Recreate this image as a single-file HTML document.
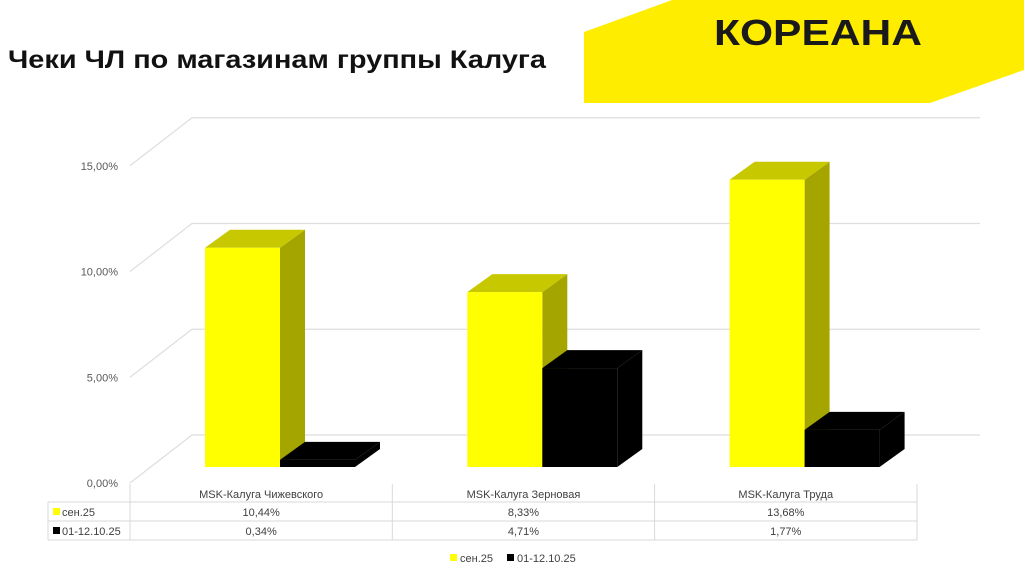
<!DOCTYPE html>
<html><head><meta charset="utf-8"><style>
body{margin:0;width:1024px;height:574px;background:#fff;overflow:hidden;font-family:"Liberation Sans",sans-serif}
</style></head><body>
<svg width="1024" height="574" viewBox="0 0 1024 574">
<polygon points="584,32 672,0 1024,0 1024,70 930,103 584,103" fill="#ffed00"/>
<text x="818" y="45" text-anchor="middle" font-family="Liberation Sans, DejaVu Sans, sans-serif" font-weight="bold" font-size="36" fill="#1a1a1a" textLength="208" lengthAdjust="spacingAndGlyphs">КОРЕАНА</text>
<text x="8" y="68" font-weight="bold" font-size="25" fill="#111" textLength="538" lengthAdjust="spacingAndGlyphs">Чеки ЧЛ по магазинам группы Калуга</text>
<g id="chart"></g>
</svg>
<script>
const categories=["MSK-Калуга Чижевского","MSK-Калуга Зерновая","MSK-Калуга Труда"];
const seriesNames=["сен.25","01-12.10.25"];
const sep25=[10.44,8.33,13.68];
const oct25=[0.34,4.71,1.77];
const sepLabels=["10,44%","8,33%","13,68%"];
const octLabels=["0,34%","4,71%","1,77%"];
const ticks=[0,5,10,15];
const tickLabels=["0,00%","5,00%","10,00%","15,00%"];
const NS="http://www.w3.org/2000/svg";
const g=document.getElementById('chart');
function el(t,a,p){const e=document.createElementNS(NS,t);for(const k in a)e.setAttribute(k,a[k]);(p||g).appendChild(e);return e;}
const y0=483,pxPer=21.15,DX=62,DY=-48;
const yF=v=>y0-v*pxPer;
const barBase=467,barPx=21.0;
const yB=v=>barBase-v*barPx;
const catX0=130,catW=262.3;
ticks.forEach((t,i)=>{
 const y=yF(t);
 const l=el('polyline',{points:`130,${y} ${130+DX},${y+DY} 980,${y+DY}`,fill:'none',stroke:'#dedede','stroke-width':1.2});
 
 
 const tx=el('text',{x:118,y:y+4,'text-anchor':'end','font-size':11,fill:'#595959'});
 tx.textContent=tickLabels[i];
 
 
});
function bar(x,v,front,top,side,name){
 const w=75,dx=25,dy=-18,yt=yB(v);
 const gg=el('g',{});
 
 
 el('polygon',{points:`${x+w},${barBase} ${x+w+dx},${barBase+dy} ${x+w+dx},${yt+dy} ${x+w},${yt}`,fill:side},gg);
 el('polygon',{points:`${x},${yt} ${x+dx},${yt+dy} ${x+w+dx},${yt+dy} ${x+w},${yt}`,fill:top},gg);
 el('rect',{x:x,y:yt,width:w,height:barBase-yt,fill:front},gg);
}
categories.forEach((c,i)=>{
 const x=catX0+catW*i+75;
 bar(x,sep25[i],'#ffff00','#c8c800','#a5a500','bar-sep-'+i);
 bar(x+75,oct25[i],'#000','#000','#000','bar-oct-'+i);
});
const tc='#d9d9d9';
[[130,484,130,502],[48,502,917,502],[48,521,917,521],[48,540,917,540],[48,502,48,540],[917,484,917,540]].forEach(p=>{
 const l=el('line',{x1:p[0],y1:p[1],x2:p[2],y2:p[3],stroke:tc});
 
 
});
categories.forEach((c,i)=>{
 const xs=catX0+catW*i,cx=xs+catW/2;
 const v=el('line',{x1:xs,y1:484,x2:xs,y2:540,stroke:tc});
 
 
 const t=el('text',{x:cx,y:498,'text-anchor':'middle','font-size':11,fill:'#404040'});t.textContent=c;
 
 
 const a=el('text',{x:cx,y:516,'text-anchor':'middle','font-size':11,fill:'#404040'});a.textContent=sepLabels[i];
 
 
 const b=el('text',{x:cx,y:535,'text-anchor':'middle','font-size':11,fill:'#404040'});b.textContent=octLabels[i];
 
 
});
[['#ffff00',516],['#000',535]].forEach((r,i)=>{
 const s=el('rect',{x:53,y:r[1]-8,width:7,height:7,fill:r[0]});
 
 
 const t=el('text',{x:62,y:r[1],'font-size':11,fill:'#404040'});t.textContent=seriesNames[i];
 
 
});
[[450,'#ffff00'],[507,'#000']].forEach((p,i)=>{
 const s=el('rect',{x:p[0],y:554,width:7,height:7,fill:p[1]});
 
 
 const t=el('text',{x:p[0]+10,y:562,'font-size':11,fill:'#404040'});t.textContent=seriesNames[i];
 
 
});
</script>
</body></html>
